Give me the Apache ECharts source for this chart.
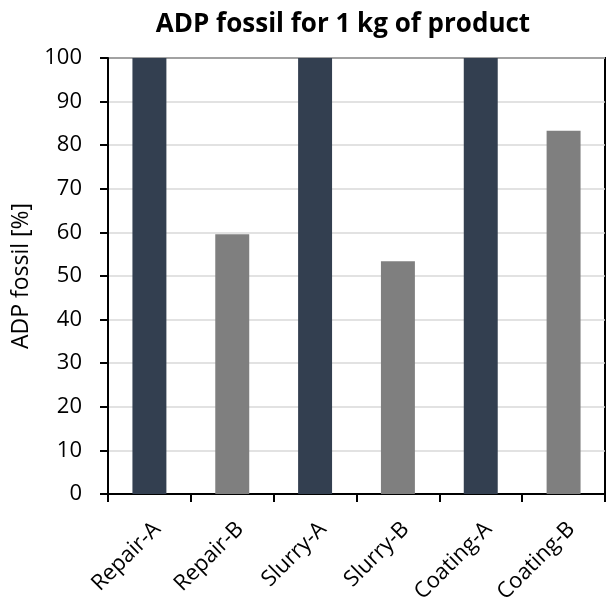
<!DOCTYPE html>
<html><head><meta charset="utf-8">
<script src="https://cdn.jsdelivr.net/npm/echarts@6/dist/echarts.min.js"></script>
<style>html,body{margin:0;padding:0;background:#fff}#c{width:607px;height:606px}</style>
</head><body><div id="c"></div>
<script>
var categories = ["Repair-A","Repair-B","Slurry-A","Slurry-B","Coating-A","Coating-B"];
var values = [100, 59.6, 100, 53.4, 100, 83.3];
var barColors = ["#333F50","#7F7F7F","#333F50","#7F7F7F","#333F50","#7F7F7F"];
var yTicks = [0,10,20,30,40,50,60,70,80,90,100];

var font = "'Open Sans', 'Liberation Sans', sans-serif";
var chart = echarts.init(document.getElementById('c'), null, {renderer:'canvas'});
chart.setOption({
  animation:false,
  title:{text:"ADP fossil for 1 kg of product", left:338, textAlign:'center', top:7,
    textStyle:{fontFamily:font, fontWeight:'bold', fontSize:26, color:'#000'}},
  grid:{left:108, right:2, top:58, bottom:109, show:true, borderColor:'#000', borderWidth:2, containLabel:false},
  xAxis:{type:'category', data:categories, boundaryGap:true,
    axisLine:{lineStyle:{color:'#000', width:2}},
    axisTick:{show:true, alignWithLabel:false, length:8, lineStyle:{color:'#000', width:2}},
    axisLabel:{rotate:45, fontFamily:font, fontSize:22, color:'#000', margin:24,
      verticalAlign:'top'}},
  yAxis:{type:'value', min:0, max:100, interval:10,
    name:"ADP fossil [%]", nameLocation:'middle', nameGap:68, nameRotate:90,
    nameTextStyle:{fontFamily:font, fontSize:23, color:'#000'},
    axisLine:{show:true, lineStyle:{color:'#000', width:2}},
    axisTick:{show:true, length:8, lineStyle:{color:'#000', width:2}},
    axisLabel:{fontFamily:font, fontSize:22, color:'#000', margin:26,
      formatter:function(v){return yTicks.indexOf(v)>=0?String(v):'';}},
    splitLine:{show:true, lineStyle:{color:'#d9d9d9', width:1.5}}},
  series:[{type:'bar', barWidth:'41%',
    data:values.map(function(v,i){return {value:v, itemStyle:{color:barColors[i]}};})}]
});
</script></body></html>
